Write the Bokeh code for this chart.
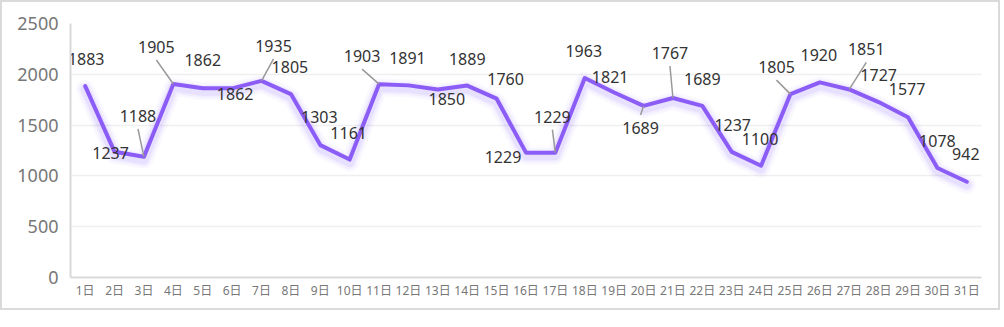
from bokeh.plotting import figure
from bokeh.models import Range1d, FixedTicker, ColumnDataSource
from bokeh.embed import file_html
from bokeh.resources import INLINE
from bokeh.core.properties import value

# ---- data ----
day_labels = [f"{i}日" for i in range(1, 32)]
day_index = list(range(1, 32))
values = [1883, 1237, 1188, 1905, 1862, 1862, 1935, 1805, 1303, 1161,
          1903, 1891, 1850, 1889, 1760, 1229, 1229, 1963, 1821, 1689,
          1767, 1689, 1237, 1100, 1805, 1920, 1851, 1727, 1577, 1078, 942]
y_ticks = [0, 500, 1000, 1500, 2000, 2500]

# label placement (screen px, relative to the point) and leader-line flags
label_dx = [1, -4, -6, -17, 0, 3, 12, -1, -1, -1,
            -17, -1, 9, 0, 9, -23, -3, -1, -4, -3,
            -3, 0, 1, -1, -14, -1, 17, 0, -1, 0, -1]
label_dy = [-27, 1, -41, -37, -28, 6, -35, -27, -28, -27,
            -28, -27, 9, -27, -20, 4, -36, -27, -15, 22,
            -45, -27, -27, -27, -27, -27, -40, -27, -28, -27, -28]
has_leader = [False, False, True, True, False, False, True, False, False, False,
              True, False, False, False, False, False, True, False, False, True,
              True, False, False, False, True, False, True, False, False, False, False]

NUM_FONT = "'Noto Sans', 'Noto Sans CJK SC'"

# ---- layout ----
W, H = 1000, 310
ML, MR, MT, MB = 68, 21, 21, 35
FW, FH = W - ML - MR, H - MT - MB
YMAX = 2500
NCAT = len(values)
px_per_x = FW / NCAT
units_per_py = YMAX / FH

p = figure(width=W, height=H, x_range=Range1d(0.5, NCAT + 0.5), y_range=Range1d(0, YMAX),
           output_backend="svg", toolbar_location=None,
           min_border_left=ML, min_border_right=MR, min_border_top=MT, min_border_bottom=MB)
p.styles = {"border": "2px solid #dadada"}
p.outline_line_color = None
p.background_fill_color = "white"
p.border_fill_color = "white"

# axes
p.yaxis.ticker = FixedTicker(ticks=y_ticks)
p.yaxis.major_label_text_font_size = "18px"
p.yaxis.major_label_text_color = "#777777"
p.yaxis.major_label_text_font = NUM_FONT
p.yaxis.major_label_standoff = 12
p.yaxis.major_tick_line_color = None
p.yaxis.major_tick_out = 0
p.yaxis.major_tick_in = 0
p.yaxis.minor_tick_line_color = None
p.yaxis.minor_tick_out = 0
p.yaxis.axis_line_color = "#d9d9d9"
p.yaxis.axis_line_width = 2

p.xaxis.ticker = FixedTicker(ticks=day_index)
p.xaxis.major_label_overrides = {i: lab for i, lab in zip(day_index, day_labels)}
p.xaxis.major_label_text_font_size = "12px"
p.xaxis.major_label_text_color = "#777777"
p.xaxis.major_label_text_font = NUM_FONT
p.xaxis.major_label_standoff = 4
p.xaxis.major_tick_line_color = None
p.xaxis.major_tick_out = 0
p.xaxis.major_tick_in = 0
p.xaxis.minor_tick_line_color = None
p.xaxis.minor_tick_out = 0
p.xaxis.axis_line_color = "#d9d9d9"
p.xaxis.axis_line_width = 2

p.xgrid.visible = False
p.ygrid.grid_line_color = "#efefef"
p.ygrid.grid_line_width = 1.5

# glow under the line
shift = 3 * units_per_py
glow_y = [v - shift for v in values]
for w, a in [(18, 0.05), (13, 0.08), (9, 0.12)]:
    p.line(day_index, glow_y, line_width=w, line_color="#9d7bff", line_alpha=a,
           line_join="round", line_cap="round")

p.line(day_index, values, line_width=4, line_color="#8b5cf6", line_join="round", line_cap="round")

# leader lines
lx0, ly0, lx1, ly1 = [], [], [], []
for x, v, dx, dy, f in zip(day_index, values, label_dx, label_dy, has_leader):
    if not f:
        continue
    start_dy = dy + 13 if dy < 0 else dy - 13
    lx0.append(x + dx / px_per_x)
    ly0.append(v - start_dy * units_per_py)
    lx1.append(x)
    ly1.append(v)
p.segment(lx0, ly0, lx1, ly1, line_color="#999999", line_width=1.5)

# value labels
src = ColumnDataSource(dict(x=day_index, y=values, t=[str(v) for v in values],
                            dx=label_dx, dy=label_dy))
p.text(x="x", y="y", text="t", x_offset="dx", y_offset="dy", source=src,
       text_align="center", text_baseline="middle",
       text_font=value(NUM_FONT), text_font_size="16px", text_color="#333333")

open("out.html", "w").write(file_html(p, INLINE))
